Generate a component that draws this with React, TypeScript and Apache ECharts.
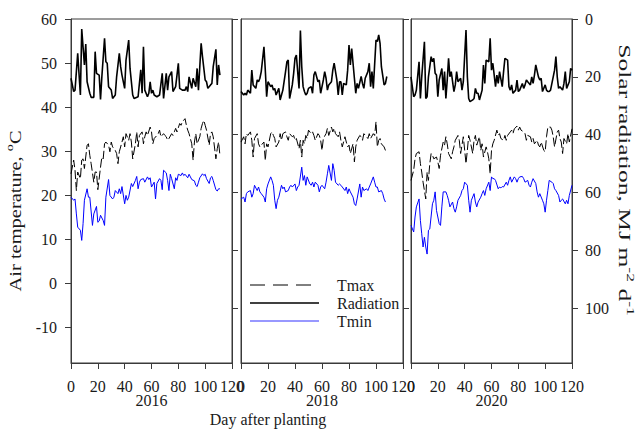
import React, { useEffect, useRef } from 'react';
import * as echarts from 'echarts';

// ---------- data ----------
const xTicks = [0, 20, 40, 60, 80, 100, 120];
const tempTicks = [-10, 0, 10, 20, 30, 40, 50, 60];
const radTicks = [0, 20, 40, 60, 80, 100];
const years = ['2016', '2018', '2020'];
const seriesNames = ['Tmax', 'Radiation', 'Tmin'];

// [day after planting, value]
const tmax2016 = [[0,24.9],[2,28.0],[3,25.7],[4,21.1],[5,25.3],[7,23.8],[8,28],[9,28.3],[10,26.1],[12,31.4],[13,31.7],[14,29.1],[15,27.2],[17,23.0],[18,25.3],[19,25.3],[20,21.3],[22,26.4],[23,28.7],[24,28.3],[25,31.7],[26,32.1],[28,31.4],[29,29.9],[30,32.1],[31,31],[33,30.2],[34,29.5],[35,27.2],[36,29.9],[38,32.1],[39,33.3],[40,31],[41,34],[43,32.5],[44,34],[45,32.1],[46,28.3],[48,31.7],[49,34.4],[50,31],[51,33.6],[53,34.4],[54,31.7],[55,33.3],[56,34.4],[57,33.6],[59,35.5],[60,34.4],[61,31.7],[62,32.9],[64,33.6],[65,34],[66,34.8],[67,33.3],[69,34],[70,33.6],[71,33.3],[72,32.5],[73,32.9],[75,34],[76,33.6],[77,34.4],[78,35.2],[79,34.4],[81,36.3],[82,35.9],[83,36.7],[85,37.4],[86,35.9],[87,34.8],[88,34],[90,31.7],[91,28],[92,32.1],[93,34],[94,31.7],[96,33.3],[97,35.2],[98,36.3],[99,37.0],[100,35.9],[101,34.8],[103,31.4],[104,34],[105,34.4],[106,33.3],[108,28.3],[109,30.6],[110,32.1],[111,29.1]];
const rad2016 = [[0,20.5],[2,25.1],[3,24.6],[5,11.9],[7,26.3],[8,3.5],[10,15.9],[11,8.7],[12,21.7],[14,25.7],[15,27.1],[17,27.1],[18,11.3],[19,18.8],[21,19.4],[22,27.8],[23,20],[25,6.7],[26,14.8],[27,15.3],[28,23.4],[30,24.6],[31,27.5],[33,26.3],[34,20],[36,11.9],[37,16.5],[38,19.4],[40,24],[41,14.2],[43,7.3],[44,17.1],[46,26.3],[47,27.5],[50,26.9],[52,17.6],[53,25.7],[54,9.6],[55,24.6],[57,26.9],[58,25.7],[59,21.7],[60,25.7],[61,24.6],[62,26.3],[64,26.9],[66,26.3],[68,18.8],[69,27.5],[71,18.8],[72,24.6],[73,20],[75,18.2],[76,25.1],[78,23.4],[79,19.4],[80,15.3],[81,24],[83,24.6],[85,24.6],[86,23.4],[87,25.1],[88,20],[90,24],[91,20.5],[93,23.4],[94,17.1],[95,24.6],[97,8.4],[98,13],[100,21.1],[101,21.7],[102,24],[104,22.8],[105,22.3],[106,16.5],[108,10.5],[109,22.8],[110,15.9],[111,19.4]];
const tmin2016 = [[0,19.6],[2,18.9],[3,19.2],[4,15.8],[5,12.8],[7,12.1],[8,9.8],[9,13.6],[10,18.9],[12,21.5],[13,19.6],[14,19.6],[16,13.2],[17,15.8],[19,17.5],[20,13.9],[21,14.2],[22,15.5],[24,14.3],[25,13.2],[26,19.6],[28,23.6],[29,20],[31,19.2],[32,19.6],[33,21.1],[35,20.4],[36,21.5],[37,20.4],[38,22.0],[40,18.1],[41,20],[42,18.9],[43,19.6],[45,22.7],[46,22.0],[48,23.4],[49,24.3],[50,21.5],[51,23.0],[52,23.6],[54,23.8],[55,23.0],[57,24.2],[58,23.6],[59,24.0],[60,21.9],[62,23.0],[63,19.2],[64,22.7],[66,23.8],[67,23.4],[68,21.3],[69,25.7],[71,25.1],[72,23.4],[73,21.1],[74,24.8],[75,23.8],[77,21.5],[78,24.0],[79,23.4],[80,24.8],[82,24.5],[83,25.1],[84,24.5],[85,24.8],[87,24.0],[88,24.8],[89,24.2],[90,23.6],[92,23.3],[93,22.3],[94,22.0],[95,23.0],[96,24.0],[98,24.9],[99,24.5],[100,24.8],[101,23.8],[103,22.7],[104,24.0],[105,24.3],[106,23.4],[108,21.3],[109,21.0],[110,21.5],[111,21.5]];

const tmax2018 = [[0,32.1],[2,33.3],[3,31.7],[4,34.0],[5,33.6],[7,34.4],[8,32.5],[9,28.7],[10,32.9],[12,34.0],[13,31.7],[14,31.0],[15,31.4],[17,32.1],[18,27.9],[19,31.7],[20,31.0],[22,34.0],[23,34.4],[24,33.6],[25,32.9],[26,31.0],[28,32.1],[29,34.0],[30,32.5],[31,34.0],[33,34.4],[34,33.3],[35,32.5],[36,34.0],[38,33.3],[39,33.6],[40,32.5],[41,32.9],[43,30.6],[44,32.5],[45,28.7],[46,32.5],[47,31.7],[48,33.6],[49,32.9],[50,34.8],[52,34.0],[53,34.4],[54,33.6],[55,32.5],[57,34.0],[58,33.6],[59,32.5],[60,30.2],[61,32.9],[63,34.0],[64,35.2],[65,33.6],[67,35.5],[68,34.4],[69,35.2],[70,34.0],[72,33.3],[73,34.4],[74,32.5],[75,31.0],[77,33.3],[78,32.1],[79,31.0],[80,31.4],[81,29.5],[83,31.7],[84,27.6],[85,31.0],[86,32.5],[88,33.6],[89,33.3],[90,32.5],[91,34.0],[93,33.3],[94,32.9],[95,34.0],[96,32.9],[98,34.0],[99,33.6],[100,36.7],[101,31.0],[102,32.5],[103,32.9],[104,31.7],[106,31.0],[107,30.2]];
const rad2018 = [[0,25.1],[2,26.3],[3,25.7],[4,26.3],[5,24.6],[7,25.7],[8,17.7],[9,22.8],[11,24.0],[12,21.1],[13,21.7],[14,20.5],[15,18.2],[17,9.6],[18,17.7],[19,26.9],[20,21.7],[22,23.4],[23,22.8],[24,24.6],[25,24.0],[26,26.3],[28,24.0],[29,28.0],[30,26.3],[31,24.6],[33,18.2],[34,14.8],[35,14.2],[36,27.5],[38,22.8],[39,18.8],[40,13.6],[41,12.5],[43,24.0],[44,4.0],[45,16.5],[46,23.4],[47,25.1],[48,26.3],[49,25.7],[50,24.0],[52,23.4],[53,25.7],[54,19.4],[55,18.2],[57,21.7],[58,21.1],[59,25.7],[61,21.1],[62,18.2],[63,20.5],[64,24.6],[65,22.8],[67,21.7],[68,17.7],[69,15.3],[71,21.1],[72,26.3],[73,21.7],[74,21.7],[75,26.3],[76,22.3],[78,22.8],[79,17.7],[80,9.0],[81,15.9],[82,10.2],[84,20.5],[85,25.7],[86,22.3],[87,24.0],[89,19.9],[90,22.3],[91,24.0],[92,20.5],[94,18.2],[95,15.3],[96,23.4],[97,18.2],[98,24.0],[100,7.3],[101,7.8],[102,5.5],[103,8.4],[104,16.5],[106,22.8],[107,22.3],[108,19.9]];
const tmin2018 = [[0,19.2],[2,19.6],[3,18.5],[4,20.4],[5,20.8],[7,21.1],[8,19.6],[9,20.4],[10,22.3],[12,21.1],[13,21.9],[14,20.8],[15,20.4],[17,19.6],[18,18.5],[19,21.5],[20,22.6],[22,24.2],[23,23.4],[24,22.3],[25,18.9],[26,17.0],[27,18.9],[28,19.6],[30,22.3],[31,21.5],[32,21.9],[33,20.8],[35,21.1],[36,21.9],[37,22.3],[38,21.9],[40,22.6],[41,21.1],[42,21.9],[43,22.3],[45,26.4],[46,23.4],[47,24.5],[48,22.3],[49,24.2],[51,22.6],[52,22.3],[53,23.0],[54,21.9],[55,23.0],[57,22.3],[58,20.8],[59,21.9],[60,22.3],[62,21.5],[63,23.0],[64,24.9],[65,26.8],[67,23.4],[68,27.2],[69,25.7],[70,23.0],[72,22.3],[73,22.6],[74,22.3],[75,21.9],[77,21.1],[78,21.9],[79,20.4],[80,21.5],[81,20.8],[83,19.6],[84,18.1],[85,17.7],[86,19.2],[88,22.6],[89,19.6],[90,21.9],[91,21.1],[93,21.5],[94,21.1],[95,21.9],[96,22.6],[98,24.2],[99,23.0],[100,21.9],[101,21.9],[102,20.8],[104,21.1],[105,20.4],[106,19.2],[107,18.5]];

const tmax2020 = [[0,23.4],[2,25.7],[3,28.3],[4,29.5],[6,29.9],[7,27.2],[8,25.3],[9,23.0],[11,19.2],[12,25.3],[13,23.4],[14,27.2],[15,29.5],[16,29.1],[17,28.3],[19,28.7],[20,27.6],[21,26.1],[22,29.1],[24,32.1],[25,31.4],[26,33.3],[27,31.7],[28,29.5],[30,28.3],[31,29.9],[32,31.0],[33,32.5],[35,33.6],[36,32.5],[37,29.5],[38,31.4],[39,33.3],[41,27.2],[42,30.2],[43,33.6],[44,32.5],[46,29.5],[47,32.5],[48,33.6],[49,31.4],[51,33.3],[52,30.2],[53,31.7],[54,28.7],[56,31.0],[57,29.9],[58,28.3],[59,24.9],[60,30.2],[61,31.7],[62,32.5],[64,34.8],[65,33.6],[66,34.0],[67,32.9],[69,32.5],[70,33.6],[71,32.5],[72,33.6],[74,34.4],[75,34.8],[76,34.0],[77,35.1],[79,35.7],[80,34.8],[81,35.5],[82,34.8],[84,34.4],[85,34.0],[86,32.5],[87,33.6],[89,33.3],[90,32.1],[91,32.9],[92,31.7],[94,32.5],[95,31.4],[96,31.0],[97,32.1],[99,30.2],[100,29.9],[101,33.3],[102,35.5],[104,35.5],[105,34.8],[106,33.3],[107,31.0],[109,34.4],[110,34.8],[111,32.9],[112,32.1],[113,29.5],[114,32.9],[116,31.7],[117,34.0],[118,32.1],[120,35.1]];
const rad2020 = [[0,20.0],[2,26.9],[3,26.3],[4,24.6],[6,14.8],[7,27.5],[8,20.0],[10,7.9],[11,27.5],[12,26.9],[13,20.0],[15,13.0],[16,14.8],[17,13.6],[18,18.8],[19,19.4],[20,26.9],[21,21.1],[23,17.1],[24,24.6],[25,18.2],[26,27.5],[27,21.1],[28,13.6],[29,20.0],[30,18.2],[32,25.1],[33,22.8],[34,18.2],[35,21.7],[37,20.5],[38,24.6],[39,21.7],[41,3.8],[42,20.0],[43,27.5],[44,28.6],[46,28.0],[47,27.5],[48,24.0],[49,25.7],[50,25.7],[51,28.0],[53,24.6],[54,15.9],[55,22.3],[56,14.2],[58,14.8],[59,6.7],[60,17.7],[61,15.3],[63,23.4],[64,19.4],[65,22.3],[66,18.2],[68,23.4],[69,18.2],[70,13.6],[72,14.2],[73,23.4],[74,24.6],[75,22.8],[76,25.7],[78,24.6],[79,21.1],[80,25.1],[81,24.6],[83,22.3],[84,24.0],[85,22.8],[86,21.1],[87,21.7],[89,22.8],[90,20.0],[91,22.3],[92,19.4],[93,15.9],[95,20.0],[96,21.1],[97,20.5],[98,25.1],[100,22.8],[101,24.6],[102,25.1],[103,25.1],[104,24.6],[106,20.0],[107,17.7],[108,13.0],[109,20.0],[110,24.0],[111,23.4],[113,24.6],[114,22.3],[115,18.2],[116,24.0],[118,21.7],[119,17.1],[120,17.7]];
const tmin2020 = [[0,13.2],[2,11.7],[3,15.1],[4,17.4],[6,19.2],[7,14.3],[8,11.3],[9,8.3],[10,10.5],[11,8.3],[12,6.7],[13,12.1],[14,12.4],[16,18.1],[17,18.9],[18,20.8],[19,16.6],[21,13.6],[22,13.2],[23,17.4],[24,20.8],[26,20.8],[27,20.0],[28,18.9],[29,17.4],[31,18.5],[32,17.0],[33,16.2],[34,17.4],[35,18.9],[37,20.0],[38,21.1],[39,21.5],[40,23.0],[42,22.3],[43,18.9],[44,16.2],[45,18.9],[47,20.4],[48,18.5],[49,17.4],[50,18.5],[52,19.6],[53,20.4],[54,21.1],[55,20.0],[56,21.5],[58,23.0],[59,21.1],[60,24.2],[61,23.8],[62,23.8],[63,23.4],[65,21.5],[66,21.9],[67,21.7],[68,22.0],[69,21.9],[71,23.0],[72,22.3],[73,23.4],[74,24.2],[75,23.0],[77,24.2],[78,23.8],[79,23.0],[80,23.8],[81,24.2],[83,24.3],[84,23.8],[85,23.0],[87,23.4],[88,22.3],[89,21.9],[90,23.0],[91,23.8],[93,22.7],[94,20.8],[95,19.6],[96,20.4],[98,18.9],[99,18.1],[100,16.2],[101,18.9],[102,21.1],[103,23.4],[105,23.0],[106,22.7],[107,21.5],[108,21.1],[110,20.0],[111,18.5],[112,18.9],[113,19.2],[115,18.1],[116,18.9],[117,18.1],[118,20.0],[120,22.3]];

const tmaxByYear = [tmax2016, tmax2018, tmax2020];
const radByYear = [rad2016, rad2018, rad2020];
const tminByYear = [tmin2016, tmin2018, tmin2020];

// ---------- layout / style ----------
const FONT = 'Liberation Serif';
const AXIS_COLOR = '#3a3a3a';
const TEXT_COLOR = '#1a1a1a';
const PANELS = [
  { left: 71, width: 161 },
  { left: 241, width: 162 },
  { left: 411, width: 161 },
];
const TOP = 19;
const HEIGHT = 344;
const SERIES_DASH = [9, 3];
const LEGEND_DASH = [15, 8];

export default function App() {
  const ref = useRef<HTMLDivElement>(null);

  useEffect(() => {
    if (!ref.current) return;
    const chart = echarts.init(ref.current, undefined, { renderer: 'svg' });

    const grid = PANELS.map((p) => ({
      left: p.left,
      top: TOP,
      width: p.width,
      height: HEIGHT,
      show: true,
      borderColor: AXIS_COLOR,
      borderWidth: 1,
      backgroundColor: 'transparent',
    }));

    const labelStyle = { fontSize: 16, fontFamily: FONT, color: TEXT_COLOR };

    const xAxis = PANELS.map((_, i) => ({
      type: 'value',
      gridIndex: i,
      min: xTicks[0],
      max: xTicks[xTicks.length - 1],
      interval: 20,
      axisLine: { show: true, onZero: false, lineStyle: { color: AXIS_COLOR, width: 1 } },
      axisTick: { show: true, inside: false, length: 6, lineStyle: { color: AXIS_COLOR } },
      axisLabel: { show: true, margin: 15, ...labelStyle },
      splitLine: { show: false },
    }));

    const yAxis: any[] = [];
    PANELS.forEach((_, i) => {
      yAxis.push({
        type: 'value',
        gridIndex: i,
        position: 'left',
        min: -18,
        max: 60,
        axisLine: { show: true, onZero: false, lineStyle: { color: AXIS_COLOR, width: 1 } },
        axisTick: { show: i === 0, inside: false, length: 6, customValues: tempTicks, lineStyle: { color: AXIS_COLOR } },
        axisLabel: { show: i === 0, customValues: tempTicks, margin: 14, ...labelStyle },
        splitLine: { show: false },
      });
      yAxis.push({
        type: 'value',
        gridIndex: i,
        position: 'right',
        inverse: true,
        min: 0,
        max: 119,
        axisLine: { show: true, onZero: false, lineStyle: { color: AXIS_COLOR, width: 1 } },
        axisTick: { show: true, inside: false, length: 6, customValues: radTicks, lineStyle: { color: AXIS_COLOR } },
        axisLabel: { show: i === 2, customValues: radTicks, margin: 13, ...labelStyle },
        splitLine: { show: false },
      });
    });

    const series: any[] = [];
    PANELS.forEach((_, i) => {
      series.push({
        type: 'line', name: seriesNames[0], xAxisIndex: i, yAxisIndex: 2 * i,
        data: tmaxByYear[i], symbol: 'none', clip: true,
        lineStyle: { color: '#000', width: 1, type: SERIES_DASH },
      });
      series.push({
        type: 'line', name: seriesNames[1], xAxisIndex: i, yAxisIndex: 2 * i + 1,
        data: radByYear[i], symbol: 'none', clip: true,
        lineStyle: { color: '#000', width: 1.6 },
      });
      series.push({
        type: 'line', name: seriesNames[2], xAxisIndex: i, yAxisIndex: 2 * i,
        data: tminByYear[i], symbol: 'none', clip: true,
        lineStyle: { color: '#0000ff', width: 1 },
      });
    });

    const legendY = [285, 303, 321];
    const legendStyles = [
      { stroke: '#000', lineWidth: 1, lineDash: LEGEND_DASH },
      { stroke: '#000', lineWidth: 1.6 },
      { stroke: '#3333ff', lineWidth: 1.2 },
    ];
    const graphic: any[] = [];
    seriesNames.forEach((n, k) => {
      graphic.push({
        type: 'line',
        shape: { x1: 250, y1: legendY[k], x2: 319, y2: legendY[k] },
        style: legendStyles[k],
      });
      graphic.push({
        type: 'text',
        x: 337,
        y: legendY[k],
        style: { text: n, fontSize: 16, fontFamily: FONT, fill: TEXT_COLOR, verticalAlign: 'middle', align: 'left' },
      });
    });
    years.forEach((yr, i) => {
      graphic.push({
        type: 'text',
        x: PANELS[i].left + PANELS[i].width / 2,
        y: 400,
        style: { text: yr, fontSize: 16, fontFamily: FONT, fill: TEXT_COLOR, align: 'center', verticalAlign: 'middle' },
      });
    });
    graphic.push({
      type: 'text',
      x: 268,
      y: 419,
      style: { text: 'Day after planting', fontSize: 16, fontFamily: FONT, fill: TEXT_COLOR, align: 'center', verticalAlign: 'middle' },
    });
    const rich = {
      n: { fontSize: 16, fontFamily: FONT, lineHeight: 24, fill: TEXT_COLOR },
      s: { fontSize: 11, fontFamily: FONT, lineHeight: 12, verticalAlign: 'top', fill: TEXT_COLOR },
    };
    graphic.push({
      type: 'text',
      x: 16,
      y: 211,
      rotation: Math.PI / 2,
      scaleX: 1.28,
      style: {
        text: '{n|Air temperature, }{s|o}{n|C}',
        align: 'center',
        verticalAlign: 'middle',
        fill: TEXT_COLOR,
        rich,
      },
    });
    graphic.push({
      type: 'text',
      x: 624,
      y: 180,
      rotation: -Math.PI / 2,
      scaleX: 1.6,
      style: {
        text: '{n|Solar radiation, MJ m}{s|-2}{n| d}{s|-1}',
        align: 'center',
        verticalAlign: 'middle',
        fill: TEXT_COLOR,
        rich,
      },
    });

    chart.setOption({
      animation: false,
      backgroundColor: '#fff',
      grid,
      xAxis,
      yAxis,
      series,
      graphic,
    });

    return () => chart.dispose();
  }, []);

  return (
    <div
      ref={ref}
      style={{ position: 'fixed', left: 0, top: 0, width: 643, height: 429, background: '#fff' }}
    />
  );
}
